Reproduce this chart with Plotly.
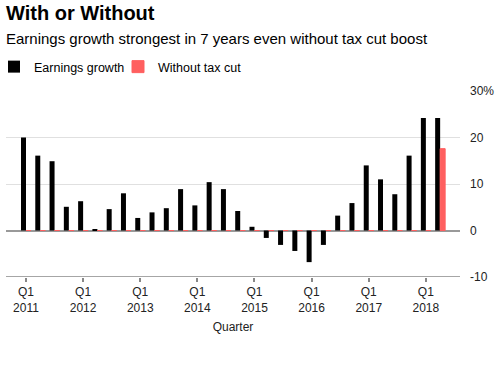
import plotly.graph_objects as go

quarters = [f"{y} Q{q}" for y in range(2011, 2019) for q in range(1, 5)][:30]
earnings_growth = [20.0, 16.1, 14.9, 5.1,
                   6.3, 0.2, 4.6, 8.0,
                   2.7, 3.9, 4.8, 8.9,
                   5.4, 10.4, 8.9, 4.2,
                   0.8, -1.6, -3.1, -4.4,
                   -6.8, -3.1, 3.2, 5.9,
                   14.0, 11.0, 7.8, 16.1,
                   24.2, 24.2]
without_tax_cut = [0.0] * 29 + [17.6]
tick_quarters = [f"{y} Q1" for y in range(2011, 2019)]
tick_labels = [f"Q1<br>{y}" for y in range(2011, 2019)]
y_ticks = [-10, 0, 10, 20, 30]
y_tick_labels = ["-10", "0", "10", "20", "30%"]

FONT = "Liberation Sans, Arial, sans-serif"

fig = go.Figure()
fig.add_trace(go.Bar(x=quarters, y=earnings_growth, name="Earnings growth",
                     marker=dict(color="#000000", line=dict(width=0))))
fig.add_trace(go.Bar(x=quarters, y=without_tax_cut, name="Without tax cut",
                     marker=dict(color="#ff5f5f", line=dict(color="#ff5f5f", width=1))))

fig.update_layout(
    width=499, height=366,
    margin=dict(l=6, r=39, t=91, b=89, autoexpand=False),
    paper_bgcolor="white", plot_bgcolor="white",
    barmode="group", bargap=0.3, bargroupgap=0,
    font=dict(family=FONT, size=12, color="#000"),
    showlegend=True,
    legend=dict(orientation="h", xref="paper", yref="container",
                x=-12 / 454, y=1 - 52 / 366, xanchor="left", yanchor="top",
                font=dict(size=12.5, color="#000"), traceorder="normal",
                itemwidth=30, entrywidth=79, entrywidthmode="pixels",
                bgcolor="rgba(0,0,0,0)"),
    annotations=[
        dict(text="<b>With or Without</b>", x=0, y=1, xref="paper", yref="paper",
             xanchor="left", yanchor="top", showarrow=False,
             font=dict(size=20, color="#000", family=FONT), xshift=-2, yshift=91),
        dict(text="Earnings growth strongest in 7 years even without tax cut boost",
             x=0, y=1, xref="paper", yref="paper", xanchor="left", yanchor="top",
             showarrow=False, font=dict(size=15, color="#000", family=FONT),
             xshift=-2, yshift=63),
    ],
)
fig.update_xaxes(
    type="category", categoryorder="array", categoryarray=quarters,
    range=[-1.4, 30.39], automargin=False,
    tickmode="array", tickvals=tick_quarters, ticktext=tick_labels,
    ticks="outside", ticklen=4, tickwidth=1.5, tickcolor="#888",
    showline=False, showgrid=False, zeroline=False,
    tickfont=dict(size=12, color="#222"),
    title=dict(text="Quarter", font=dict(size=12, color="#222"), standoff=8),
)
fig.update_yaxes(
    side="right", range=[-10, 30], automargin=False,
    tickmode="array", tickvals=y_ticks, ticktext=y_tick_labels,
    showgrid=True, gridcolor="#e0e0e0", gridwidth=1,
    zeroline=True, zerolinecolor="#999", zerolinewidth=1.5,
    showline=False, ticks="", ticklabelstandoff=9,
    tickfont=dict(size=12, color="#222"),
)
fig.add_shape(type="line", xref="paper", yref="y", x0=0, x1=1, y0=-10, y1=-10,
              line=dict(color="#888", width=1.5))
fig.write_html("out.html", config={"displayModeBar": False},
               post_script="document.body.style.margin='0';")
